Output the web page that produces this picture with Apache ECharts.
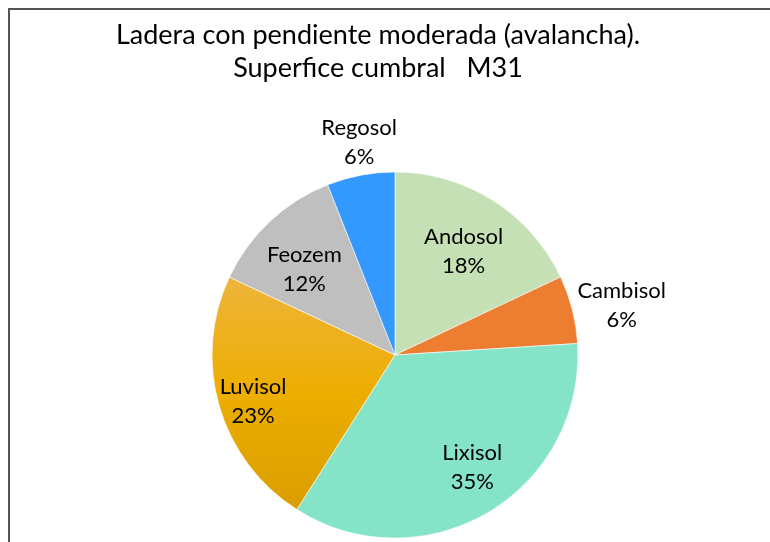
<!DOCTYPE html>
<head>
    <meta charset="utf-8">
    <title>ECharts</title>
</head>
<body style="margin:0">
    <div id="main" style="width:770px;height:542px"></div>
    <script src="https://cdn.jsdelivr.net/npm/echarts@6/dist/echarts.min.js"></script>
    <script type="text/javascript">
        // datos del gráfico
        var soils = ['Andosol', 'Cambisol', 'Lixisol', 'Luvisol', 'Feozem', 'Regosol'];
        var shares = [18, 6, 35, 23, 12, 6];
        var colors = ['#C5E0B4', '#ED7D31', '#85E3C8', null, '#BFBFBF', '#3399FF'];

        // distancia de cada etiqueta al centro (px) y ajuste fino
        var labelDist = [125, 231, 135, 149, 125, 215];
        var labelShift = [[0, 4], [0, 9], [7, -6], [4, 4], [-3, 8], [5, 2]];

        var luvisolFill = new echarts.graphic.LinearGradient(0, 0, 0, 1, [
            { offset: 0, color: '#EDB43C' },
            { offset: 0.5, color: '#EDAE00' },
            { offset: 1, color: '#D99E00' }
        ]);

        var myChart = echarts.init(document.getElementById('main'));

        var center = [395, 355];
        var R = 183;

        // una serie transparente por etiqueta; la etiqueta 'inside' cae en el medio del anillo
        function labelSeries(k) {
            var d = labelDist[k];
            var radius = d < R ? [2 * d - R, R] : [d - 20, d + 20];
            return {
                type: 'pie',
                silent: true,
                center: center,
                radius: radius,
                startAngle: 90,
                clockwise: true,
                itemStyle: { color: 'transparent' },
                label: {
                    position: 'inside',
                    formatter: '{b}\n{c}%',
                    fontFamily: 'Lato',
                    fontSize: 22,
                    lineHeight: 29,
                    color: '#000',
                    offset: labelShift[k]
                },
                labelLine: { show: false },
                emphasis: { disabled: true },
                data: soils.map(function (s, i) {
                    return { name: s, value: shares[i], label: { show: i === k } };
                }),
                z: 3
            };
        }

        var series = [{
            type: 'pie',
            center: center,
            radius: [0, R],
            startAngle: 90,
            clockwise: true,
            label: { show: false },
            labelLine: { show: false },
            itemStyle: { borderColor: '#fff', borderWidth: 0.6 },
            data: soils.map(function (s, i) {
                return {
                    name: s,
                    value: shares[i],
                    itemStyle: { color: colors[i] || luvisolFill }
                };
            })
        }];
        soils.forEach(function (s, k) {
            series.push(labelSeries(k));
        });

        var option = {
            animation: false,
            backgroundColor: '#fff',
            title: {
                text: 'Ladera con pendiente moderada (avalancha).\nSuperfice cumbral   M31',
                left: 378,
                textAlign: 'center',
                top: 19,
                padding: 0,
                textStyle: {
                    fontFamily: 'Lato',
                    fontSize: 27,
                    fontWeight: 'normal',
                    lineHeight: 33,
                    color: '#000'
                }
            },
            graphic: [{
                type: 'rect',
                shape: { x: 9, y: 9, width: 800, height: 600 },
                style: { fill: 'none', stroke: '#555', lineWidth: 2 },
                silent: true
            }],
            series: series
        };

        myChart.setOption(option);
    </script>
</body>
